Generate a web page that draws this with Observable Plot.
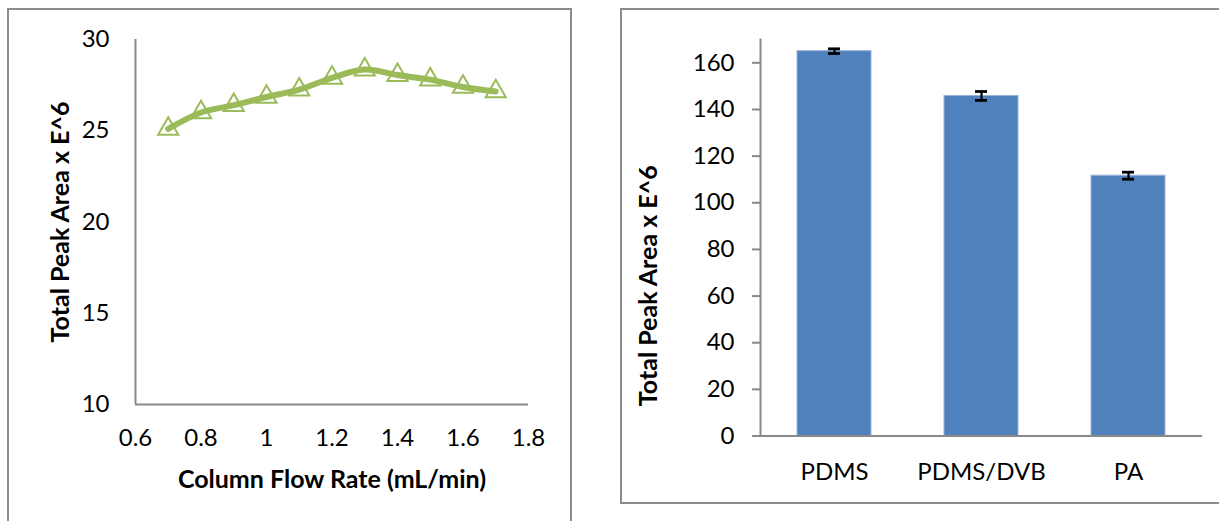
<!DOCTYPE html>
<html><head><meta charset="utf-8">
<script src="https://cdn.jsdelivr.net/npm/d3@7"></script>
<script src="https://cdn.jsdelivr.net/npm/@observablehq/plot@0.6"></script>
<style>
body{margin:0;background:#fff;width:1219px;height:521px;overflow:hidden;position:relative;font-family:Lato,sans-serif}
.box{position:absolute;border:2px solid #8c8c8c;box-sizing:border-box}
#left{left:7px;top:8px;width:565px;height:600px}
#right{left:620px;top:8px;width:700px;height:496px}
#c1,#c2{position:absolute;top:0}
#c1{left:0}
#c2{left:620px}
</style></head><body>
<div class="box" id="left"></div><div class="box" id="right"></div>
<div id="c1"></div><div id="c2"></div>
<script>
// Left chart: total peak area vs column flow rate
const flowRates = [0.7, 0.8, 0.9, 1.0, 1.1, 1.2, 1.3, 1.4, 1.5, 1.6, 1.7];
const peakAreas = [25.1, 26.0, 26.4, 26.85, 27.25, 27.9, 28.35, 28.05, 27.8, 27.4, 27.15];
const flowTicks = [0.6, 0.8, 1, 1.2, 1.4, 1.6, 1.8];
const areaTicks = [10, 15, 20, 25, 30];
const flowDomain = [0.6, 1.8];
const areaDomain = [10, 30];

// Right chart: total peak area by fiber
const fibers = ["PDMS", "PDMS/DVB", "PA"];
const fiberAreas = [165.0, 145.8, 111.6];
const fiberErrors = [1.0, 1.9, 1.5];
const fiberTicks = [0, 20, 40, 60, 80, 100, 120, 140, 160];
const fiberDomain = [0, 170];

const yTitle = "Total Peak Area x E^6";
const xTitle = "Column Flow Rate (mL/min)";

const axisGray = "#898989";
const tickFont = 24;
const titleFont = 25;
const font = {fontFamily: "Lato, sans-serif", fontSize: tickFont + "px", color: "#000", background: "transparent"};

const lineData = flowRates.map((x, i) => ({x, y: peakAreas[i]}));
const barData = fibers.map((f, i) => ({f, v: fiberAreas[i], lo: fiberAreas[i] - fiberErrors[i], hi: fiberAreas[i] + fiberErrors[i]}));

const p1 = Plot.plot({
  width: 600, height: 521,
  marginLeft: 135, marginRight: 72, marginTop: 39, marginBottom: 117,
  style: font,
  x: {domain: flowDomain},
  y: {domain: areaDomain},
  marks: [
    Plot.ruleY([areaDomain[0]], {stroke: axisGray, strokeWidth: 2}),
    Plot.ruleX([flowDomain[0]], {stroke: axisGray, strokeWidth: 2}),
    Plot.line(lineData, {x: "x", y: "y", curve: "catmull-rom", stroke: "#9BBB59", strokeWidth: 6}),
    Plot.dot(lineData, {x: "x", y: "y", symbol: "triangle", r: 7.5, stroke: "#9BBB59", strokeWidth: 2, fill: "none"}),
    Plot.axisX({ticks: flowTicks, tickSize: 0, tickPadding: 24, tickFormat: d => String(+d.toFixed(1)), fontSize: tickFont, label: null}),
    Plot.axisY({ticks: areaTicks, tickSize: 0, tickPadding: 26, fontSize: tickFont, label: null}),
    Plot.text([xTitle], {text: d => d, frameAnchor: "bottom", textAnchor: "middle", dy: 83, fontWeight: "bold", fontSize: titleFont}),
    Plot.text([yTitle], {text: d => d, frameAnchor: "left", textAnchor: "middle", rotate: -90, dx: -75, fontWeight: "bold", fontSize: titleFont})
  ]
});
document.getElementById("c1").append(p1);

const p2 = Plot.plot({
  width: 599, height: 521,
  marginLeft: 140, marginRight: 17, marginTop: 39, marginBottom: 85.5,
  style: font,
  x: {domain: fibers, paddingInner: 0.5, paddingOuter: 0.25},
  y: {domain: fiberDomain},
  marks: [
    Plot.barY(barData, {x: "f", y: "v", fill: "#4F81BD", stroke: "#9AB4D9", strokeWidth: 1}),
    Plot.ruleX(barData, {x: "f", y1: "lo", y2: "hi", stroke: "#000", strokeWidth: 2.2}),
    Plot.tickY(barData, {x: "f", y: "lo", inset: 31, stroke: "#000", strokeWidth: 2.8}),
    Plot.tickY(barData, {x: "f", y: "hi", inset: 31, stroke: "#000", strokeWidth: 2.8}),
    Plot.ruleY([fiberDomain[0]], {stroke: axisGray, strokeWidth: 2}),
    Plot.frame({anchor: "left", stroke: axisGray, strokeWidth: 2}),
    Plot.axisY({ticks: fiberTicks, tickSize: 8, tickPadding: 18, stroke: axisGray, strokeWidth: 2, fill: "#000", fontSize: tickFont, label: null}),
    Plot.axisX({tickSize: 0, tickPadding: 26.5, fontSize: tickFont, label: null}),
    Plot.text([yTitle], {text: d => d, frameAnchor: "left", textAnchor: "middle", rotate: -90, dx: -112, dy: 48, fontWeight: "bold", fontSize: titleFont})
  ]
});
document.getElementById("c2").append(p2);
</script>
</body></html>
